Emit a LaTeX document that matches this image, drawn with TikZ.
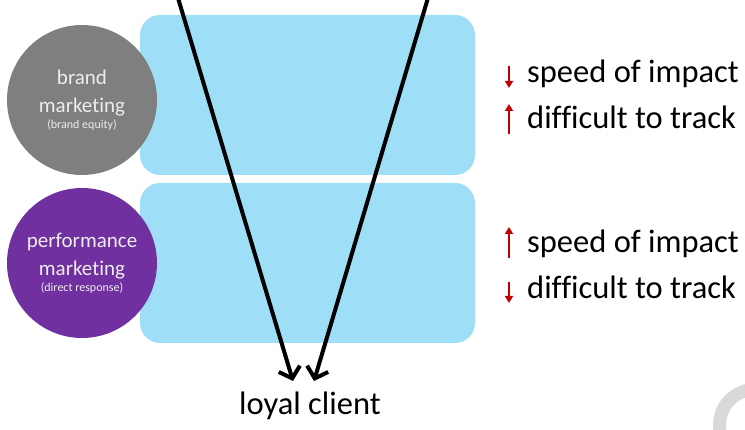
\documentclass[tikz,border=0pt]{standalone}
\usepackage{fontspec}
\setmainfont{Carlito}[Ligatures=NoCommon]
\usetikzlibrary{arrows.meta,positioning}
\definecolor{bandblue}{RGB}{158,222,246}
\definecolor{brandgray}{RGB}{127,127,127}
\definecolor{perfpurple}{RGB}{112,48,160}
\definecolor{tickred}{RGB}{192,0,0}
\definecolor{ringgray}{RGB}{217,217,217}
\tikzset{
    band style/.style={fill=bandblue,rounded corners=20pt,minimum width=335pt,minimum height=160pt,inner sep=0pt},
    disc style/.style={circle,minimum size=150pt,inner sep=0pt,text=white!93!black,align=center,font=\fontsize{21}{28}\selectfont},
    note style/.style={anchor=base west,inner sep=0pt,font=\fontsize{32.5}{38}\selectfont},
    tick style/.style={draw=tickred,line width=2pt,-{Triangle[length=7pt,width=8pt]}},
    funnel style/.style={draw,line width=4pt,-{Straight Barb[length=10pt,width=22pt]}},
}

\begin{document}
\begin{tikzpicture}[x=1pt,y=-1pt]
\clip (0,0) rectangle (745,430);
% les bandes
\node[band style] (topband) at (307.5,95) {};
\node[band style] (lowband) at (307.5,263) {};
% les disques
\node[disc style,fill=brandgray] (brand) at (82,100)
{brand\\marketing\\[-12pt]{\fontsize{12}{14}\selectfont (brand equity)}};
\node[disc style,fill=perfpurple] (perf) at (82,263)
{performance\\marketing\\[-12pt]{\fontsize{12}{14}\selectfont (direct response)}};
% l'entonnoir
\node[note style,anchor=base] (client) at (310,415) {loyal client};
\coordinate (left in) at (178,-2);
\coordinate (left out) at (293,381);
\coordinate (right in) at (428,-2);
\coordinate (right out) at (314,381);
\draw[funnel style] (left in) -- (left out);
\draw[funnel style] (right in) -- (right out);
% les effets
\node[note style] (speed top) at (527,83) {speed of impact};
\node[note style] (track top) at (527,129) {difficult to track};
\node[note style] (speed low) at (527,253) {speed of impact};
\node[note style] (track low) at (527,299) {difficult to track};
\draw[tick style] ([shift={(-18,-17)}]speed top.base west) -- ([shift={(-18,5)}]speed top.base west);
\draw[tick style] ([shift={(-18,5)}]track top.base west) -- ([shift={(-18,-25)}]track top.base west);
\draw[tick style] ([shift={(-18,5)}]speed low.base west) -- ([shift={(-18,-26)}]speed low.base west);
\draw[tick style] ([shift={(-18,-17)}]track low.base west) -- ([shift={(-18,4)}]track low.base west);
% l'anneau
\draw[ringgray,line width=13pt] (755,425) circle[radius=35.5];
\end{tikzpicture}
\end{document}
